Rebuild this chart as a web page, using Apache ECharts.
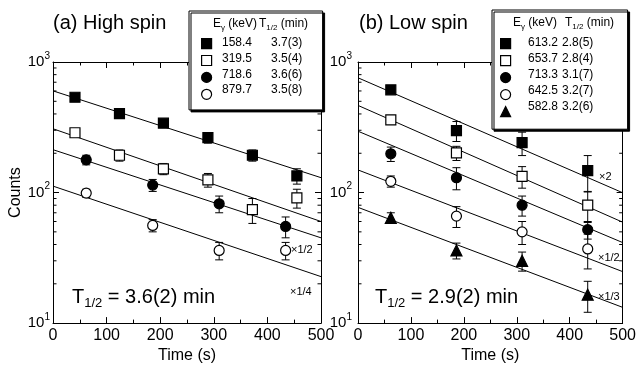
<!DOCTYPE html>
<html><head><meta charset="utf-8">
<script src="https://cdn.jsdelivr.net/npm/echarts@6/dist/echarts.min.js"></script>
<style>html,body{margin:0;padding:0;background:#fff}#c{width:639px;height:369px}</style>
</head><body><div id="c"></div>
<script>
// ---------- data ----------
const minorLogTicks = [20,30,40,50,60,70,80,90,200,300,400,500,600,700,800,900];

// (a) High spin
const aTimeSq = [41, 124, 206, 289, 372, 455];
const aTimeCi = [62, 186, 310, 434];
const aNames = ['158.4', '319.5', '718.6', '879.7'];
const aHalf  = ['3.7(3)', '3.5(4)', '3.6(6)', '3.5(8)'];
const a158 = [537, 403, 340, 263, 193, 134];  const a158Err = [10, 12, 15, 24, 19, 18];
const a319 = [287, 193, 152, 125, 74, 91];    const a319Err = [12, 19, 15, 15, 16, 15];
const a718 = [178, 114, 82, 55];              const a718Err = [15, 12, 12, 10];
const a879 = [99, 56, 36, 36];                const a879Err = [7, 6, 5.5, 5.5];
const aFitStart = [601, 308, 213, 112];
const aFitEnd   = [130, 60, 45, 22.7];

// (b) Low spin
const bTime = [62, 186, 310, 434];
const bNames = ['613.2', '653.7', '713.3', '642.5', '582.8'];
const bHalf  = ['2.8(5)', '2.8(4)', '3.1(7)', '3.2(7)', '3.2(6)'];
const b613 = [612, 298, 241, 147];  const b613Err = [30, 52, 49, 45];
const b653 = [360, 201, 133, 80];   const b653Err = [15, 25, 25, 21];
const b713 = [198, 130, 80, 52];    const b713Err = [25, 25, 14, 8];
const b642 = [122, 66, 50, 37];     const b642Err = [12, 12, 10, 11];
const b582 = [64, 36, 30, 16.5];    const b582Err = [6, 5, 5, 4.4];
const bFitStart = [757, 465, 295, 149, 77];
const bFitEnd   = [99.7, 59.3, 41.4, 24.8, 13.2];

const fitT = [0, 500];

// ---------- styles ----------
const FONT = '"Liberation Sans", Arial, sans-serif';
const STYLES = {
  fsq: {symbol: 'rect', size: 10, color: '#000'},
  osq: {symbol: 'rect', size: 10, color: '#fff'},
  fci: {symbol: 'circle', size: 10, color: '#000'},
  oci: {symbol: 'circle', size: 10, color: '#fff'},
  tri: {symbol: 'triangle', size: 11, color: '#000'}
};

function errItem(params, api) {
  const x = api.value(0), y = api.value(1), e = api.value(2);
  const t = api.coord([x, y + e]), b = api.coord([x, y - e]);
  const hw = 4, st = {stroke: '#000', lineWidth: 1};
  return {type: 'group', children: [
    {type: 'line', shape: {x1: t[0], y1: t[1], x2: b[0], y2: b[1]}, style: st},
    {type: 'line', shape: {x1: t[0]-hw, y1: t[1], x2: t[0]+hw, y2: t[1]}, style: st},
    {type: 'line', shape: {x1: b[0]-hw, y1: b[1], x2: b[0]+hw, y2: b[1]}, style: st}
  ]};
}
function minorItem(params, api) {
  const v = api.value(1);
  const l = api.coord([0, v]), r = api.coord([500, v]);
  const st = {stroke: '#000', lineWidth: 1};
  return {type: 'group', children: [
    {type: 'line', shape: {x1: l[0], y1: l[1], x2: l[0]+3.5, y2: l[1]}, style: st},
    {type: 'line', shape: {x1: r[0]-3.5, y1: r[1], x2: r[0], y2: r[1]}, style: st}
  ]};
}

const series = [];
function addSet(xi, yi, name, times, vals, errs, kind, fs, fe) {
  series.push({type: 'custom', xAxisIndex: xi, yAxisIndex: yi, renderItem: errItem, silent: true, z: 3,
    data: times.map((t, i) => [t, vals[i], errs[i]]), encode: {x: 0, y: 1}});
  series.push({type: 'line', xAxisIndex: xi, yAxisIndex: yi, showSymbol: false, symbol: 'none', silent: true, z: 2,
    lineStyle: {color: '#000', width: 1}, data: [[fitT[0], fs], [fitT[1], fe]]});
  const s = STYLES[kind];
  series.push({type: 'scatter', name: name, xAxisIndex: xi, yAxisIndex: yi, symbol: s.symbol, symbolSize: s.size, z: 5,
    itemStyle: {color: s.color, borderColor: '#000', borderWidth: 1.2, opacity: 1},
    data: times.map((t, i) => [t, vals[i]])});
}
addSet(0, 0, aNames[0], aTimeSq, a158, a158Err, 'fsq', aFitStart[0], aFitEnd[0]);
addSet(0, 0, aNames[1], aTimeSq, a319, a319Err, 'osq', aFitStart[1], aFitEnd[1]);
addSet(0, 0, aNames[2], aTimeCi, a718, a718Err, 'fci', aFitStart[2], aFitEnd[2]);
addSet(0, 0, aNames[3], aTimeCi, a879, a879Err, 'oci', aFitStart[3], aFitEnd[3]);
addSet(2, 2, bNames[0], bTime, b613, b613Err, 'fsq', bFitStart[0], bFitEnd[0]);
addSet(2, 2, bNames[1], bTime, b653, b653Err, 'osq', bFitStart[1], bFitEnd[1]);
addSet(2, 2, bNames[2], bTime, b713, b713Err, 'fci', bFitStart[2], bFitEnd[2]);
addSet(2, 2, bNames[3], bTime, b642, b642Err, 'oci', bFitStart[3], bFitEnd[3]);
addSet(2, 2, bNames[4], bTime, b582, b582Err, 'tri', bFitStart[4], bFitEnd[4]);
[[0,0],[2,2]].forEach(([xi, yi]) => series.push({type: 'custom', xAxisIndex: xi, yAxisIndex: yi, renderItem: minorItem,
  silent: true, z: 1, data: minorLogTicks.map(v => [0, v]), encode: {x: 0, y: 1}}));

// ---------- axes ----------
const axLine = {show: true, onZero: false, lineStyle: {color: '#000', width: 1}};
function xAx(grid, pos, showLabel, name) {
  return {type: 'value', gridIndex: grid, position: pos, min: 0, max: 500, interval: 100,
    axisLine: axLine, splitLine: {show: false},
    axisTick: {show: true, inside: true, length: 6, lineStyle: {color: '#000'}},
    minorTick: {show: true, splitNumber: 2, length: 3.5, lineStyle: {color: '#000'}},
    axisLabel: {show: showLabel, color: '#000', fontFamily: FONT, fontSize: 16, margin: 4},
    name: name, nameLocation: 'middle', nameGap: 20,
    nameTextStyle: {color: '#000', fontFamily: FONT, fontSize: 16}};
}
function yAx(grid, pos, showLabel, margin, name) {
  return {type: 'log', logBase: 10, gridIndex: grid, position: pos, min: 10, max: 1000,
    axisLine: axLine, splitLine: {show: false},
    axisTick: {show: true, inside: true, length: 6, lineStyle: {color: '#000'}},
    minorTick: {show: false},
    axisLabel: {show: showLabel, margin: margin, color: '#000',
      formatter: v => '{b|10}{s|' + Math.round(Math.log10(v)) + '}',
      rich: {b: {fontFamily: FONT, fontSize: 15, lineHeight: 22, color: '#000'},
             s: {fontFamily: FONT, fontSize: 10, lineHeight: 11, verticalAlign: 'top', color: '#000'}}},
    name: name || '', nameLocation: 'middle', nameGap: 26, nameRotate: 90,
    nameTextStyle: {color: '#000', fontFamily: FONT, fontSize: 16}};
}

// legend: box + symbol icons from the series; the two text columns are placed beside each row
const LEG_A = {left: 189, top: 11, padding: [27, 106, 10, 12], gap: 5.7, ex: 222, hx: 271, hdrE: 213, hdrT: 259};
const LEG_B = {left: 492, top: 10, padding: [28, 112, 12, 8], gap: 5.8, ex: 528, hx: 562, hdrE: 513, hdrT: 565};
function legendFor(names, cfg) {
  return {data: names, orient: 'vertical', left: cfg.left, top: cfg.top, padding: cfg.padding,
    itemWidth: 10, itemHeight: 10, itemGap: cfg.gap, selectedMode: false,
    backgroundColor: '#fff', borderColor: '#000', borderWidth: 1,
    shadowColor: '#000', shadowOffsetX: 2, shadowOffsetY: 2, shadowBlur: 0,
    itemStyle: {borderWidth: 1.2, borderColor: '#000'},
    formatter: () => '', textStyle: {fontSize: 1, lineHeight: 1}};
}
function txt(x, y, text, size, rich, align) {
  return {type: 'text', z: 100, style: {x: x, y: y, text: text, fontFamily: FONT, fontSize: size, fill: '#000',
    align: align || 'left', verticalAlign: 'middle', rich: rich || {}}};
}
function legendTexts(names, halves, cfg) {
  const out = [];
  names.forEach((n, i) => {
    const y = cfg.top + cfg.padding[0] + 5 + i * (10 + cfg.gap);
    out.push(txt(cfg.ex, y, n, 12));
    out.push(txt(cfg.hx, y, halves[i], 12));
  });
  out.push(txt(cfg.hdrE, cfg.top + 13, '{b|E}{s|γ}{b| (keV)}', 12, subRich12));
  out.push(txt(cfg.hdrT, cfg.top + 13, '{b|T}{s|1/2}{b| (min)}', 12, subRich12));
  return out;
}
const subRich12 = {
  b: {fontFamily: FONT, fontSize: 12, lineHeight: 16, color: '#000'},
  s: {fontFamily: FONT, fontSize: 8, lineHeight: 8, verticalAlign: 'bottom', color: '#000'}
};
const subRich20 = {
  b: {fontFamily: FONT, fontSize: 20, lineHeight: 26, color: '#000'},
  s: {fontFamily: FONT, fontSize: 13, lineHeight: 13, verticalAlign: 'bottom', color: '#000'}
};

const option = {
  animation: false,
  backgroundColor: '#fff',
  grid: [
    {left: 53, right: 318, top: 62, bottom: 38},
    {left: 358, right: 14, top: 62, bottom: 38}
  ],
  xAxis: [xAx(0, 'bottom', true, 'Time (s)'), xAx(0, 'top', false, ''),
          xAx(1, 'bottom', true, 'Time (s)'), xAx(1, 'top', false, '')],
  yAxis: [yAx(0, 'left', true, 3, 'Counts'), yAx(0, 'right', false, 3),
          yAx(1, 'left', true, 6), yAx(1, 'right', false, 6)],
  legend: [legendFor(aNames, LEG_A), legendFor(bNames, LEG_B)],
  graphic: [
    txt(53, 23, '(a) High spin', 20),
    txt(359, 23, '(b) Low spin', 20),
    txt(72, 297, '{b|T}{s|1/2}{b| = 3.6(2) min}', 20, subRich20),
    txt(375, 297, '{b|T}{s|1/2}{b| = 2.9(2) min}', 20, subRich20),
    txt(291, 250, '×1/2', 11),
    txt(290, 292, '×1/4', 11),
    txt(599, 177, '×2', 11),
    txt(598, 258, '×1/2', 11),
    txt(598, 297, '×1/3', 11)
  ].concat(legendTexts(aNames, aHalf, LEG_A), legendTexts(bNames, bHalf, LEG_B)),
  series: series
};
const chart = echarts.init(document.getElementById('c'), null, {renderer: 'canvas'});
chart.setOption(option);
</script></body></html>
